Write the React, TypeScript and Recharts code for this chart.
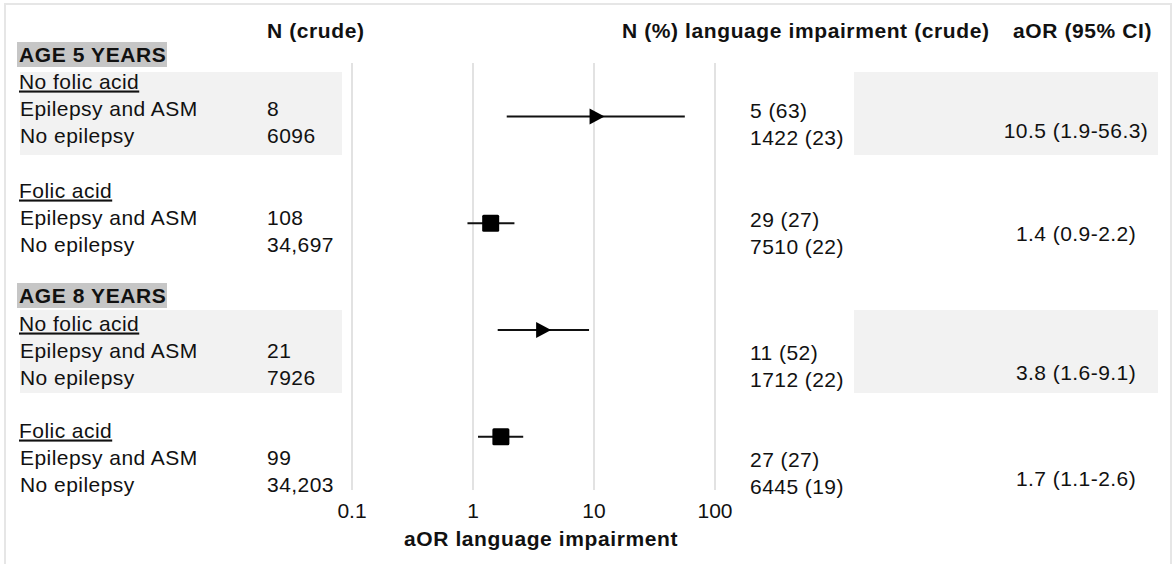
import React from 'react';
import { ScatterChart, Scatter, XAxis, YAxis, CartesianGrid, ErrorBar, Customized } from 'recharts';

const ageGroups = ['AGE 5 YEARS', 'AGE 8 YEARS'];
const subgroupLabels = ['No folic acid', 'Folic acid', 'No folic acid', 'Folic acid'];
const exposureLabels = ['Epilepsy and ASM', 'No epilepsy'];
const nCrude = [['8', '6096'], ['108', '34,697'], ['21', '7926'], ['99', '34,203']];
const nImpairment = [['5 (63)', '1422 (23)'], ['29 (27)', '7510 (22)'], ['11 (52)', '1712 (22)'], ['27 (27)', '6445 (19)']];
const aorValues = [10.5, 1.4, 3.8, 1.7];
const ciLower = [1.9, 0.9, 1.6, 1.1];
const ciUpper = [56.3, 2.2, 9.1, 2.6];
const rowOrder = [1, 2, 3, 4];
const xTicks = [0.1, 1, 10, 100];
const headers = ['N (crude)', 'N (%) language impairment (crude)', 'aOR (95% CI)'];
const xTitle = 'aOR language impairment';

const points = rowOrder.map((row, i) => ({
  row,
  aor: aorValues[i],
  err: [aorValues[i] - ciLower[i], ciUpper[i] - aorValues[i]],
  folic: subgroupLabels[i] === 'Folic acid',
}));
const noFolicPoints = points.filter((p) => !p.folic);
const folicPoints = points.filter((p) => p.folic);

const FONT = "'Liberation Sans', Arial, Helvetica, sans-serif";
const SIZE = 21;

// text layout (vertical centres of each text line)
const ageY = [54, 295];
const titleY = [81, 190, 323, 430];
const aorTextY = [130, 233, 372, 478];
const shadeTop = [72, 310];

function Txt({ x, y, children, bold = false, anchor = 'start', underline = false }: any) {
  return (
    <text
      x={x}
      y={y + 7.5}
      fontFamily={FONT}
      fontSize={SIZE}
      fontWeight={bold ? 700 : 400}
      letterSpacing={bold ? 0.6 : 0.45}
      textAnchor={anchor}
      fill="#111"
      style={underline ? { textDecoration: 'underline' } : undefined}
    >
      {children}
    </text>
  );
}

function TextLayer() {
  return (
    <g>
      <rect x={5} y={4} width={1166} height={590} fill="none" stroke="#e6e6e6" strokeWidth={2} />
      {shadeTop.map((top, i) => (
        <g key={'s' + i}>
          <rect x={20} y={top} width={322} height={83} fill="#f2f2f2" />
          <rect x={854} y={top} width={304} height={83} fill="#f2f2f2" />
        </g>
      ))}
      <Txt x={267} y={30} bold>{headers[0]}</Txt>
      <Txt x={622} y={30} bold>{headers[1]}</Txt>
      <Txt x={1013} y={30} bold>{headers[2]}</Txt>
      {ageGroups.map((a, i) => (
        <g key={'a' + i}>
          <rect x={17} y={ageY[i] - 12} width={150} height={25} fill="#c6c6c6" />
          <Txt x={19} y={ageY[i]} bold>{a}</Txt>
        </g>
      ))}
      {subgroupLabels.map((s, i) => (
        <g key={'g' + i}>
          <Txt x={19} y={titleY[i]} underline>{s}</Txt>
          {exposureLabels.map((e, j) => (
            <g key={j}>
              <Txt x={20} y={titleY[i] + 27 * (j + 1)}>{e}</Txt>
              <Txt x={267} y={titleY[i] + 27 * (j + 1)}>{nCrude[i][j]}</Txt>
              <Txt x={750} y={titleY[i] + 2 + 27 * (j + 1)}>{nImpairment[i][j]}</Txt>
            </g>
          ))}
          <Txt x={1076} y={aorTextY[i]} anchor="middle">
            {`${aorValues[i]} (${ciLower[i]}-${ciUpper[i]})`}
          </Txt>
        </g>
      ))}
      <Txt x={541} y={538} bold anchor="middle">{xTitle}</Txt>
    </g>
  );
}

const Triangle = (props: any) => {
  const { cx, cy } = props;
  if (cx == null || cy == null) return null;
  return <polygon points={`${cx - 7},${cy - 8} ${cx + 8},${cy} ${cx - 7},${cy + 8}`} fill="#000" />;
};

const Square = (props: any) => {
  const { cx, cy } = props;
  if (cx == null || cy == null) return null;
  return <rect x={cx - 8.5} y={cy - 8.5} width={17} height={17} rx={1.5} fill="#000" />;
};

export default function App() {
  return (
    <div style={{ position: 'absolute', left: 0, top: 0, background: '#fff' }}>
      <ScatterChart width={1176} height={564} margin={{ top: 63, right: 461, bottom: 44, left: 352 }}>
        <Customized component={TextLayer} />
        <CartesianGrid horizontal={false} stroke="#d9d9d9" strokeWidth={1.5} />
        <XAxis
          type="number"
          dataKey="aor"
          scale="log"
          domain={[0.1, 100]}
          allowDataOverflow
          ticks={xTicks}
          axisLine={false}
          tickLine={false}
          tickMargin={7}
          height={30}
          tick={{ fill: '#111', fontSize: SIZE, fontFamily: FONT }}
          tickFormatter={(v) => String(v)}
        />
        <YAxis type="number" dataKey="row" domain={[0.5, 4.5]} reversed hide />
        <Scatter data={noFolicPoints} shape={Triangle} isAnimationActive={false}>
          <ErrorBar dataKey="err" direction="x" width={0} stroke="#111" strokeWidth={2} />
        </Scatter>
        <Scatter data={folicPoints} shape={Square} isAnimationActive={false}>
          <ErrorBar dataKey="err" direction="x" width={0} stroke="#111" strokeWidth={2} />
        </Scatter>
      </ScatterChart>
    </div>
  );
}
